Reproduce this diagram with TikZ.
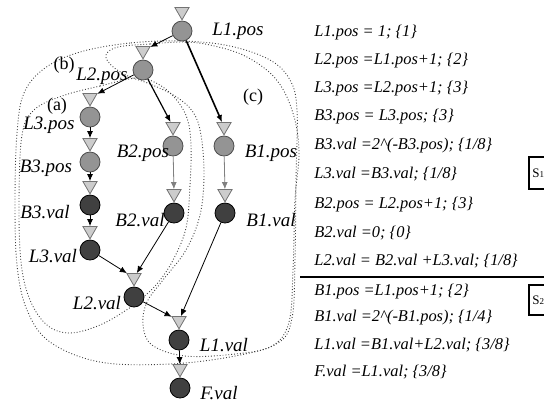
\documentclass[tikz,border=0pt]{standalone}
\usepackage{fontspec}
\setmainfont{Liberation Serif}
\usetikzlibrary{shapes.geometric,arrows.meta}
\begin{document}
\begin{tikzpicture}[x=0.5pt,y=-0.5pt,
  pcirc/.style={circle,draw=black!70,fill=black!42,minimum size=10pt,inner sep=0pt,line width=0.4pt},
  vcirc/.style={circle,draw=black,fill=black!75,minimum size=10pt,inner sep=0pt,line width=0.4pt},
  tri/.style={regular polygon,regular polygon sides=3,shape border rotate=180,draw=black!55,fill=black!20,minimum size=8.2pt,inner sep=0pt,line width=0.4pt,anchor=south},
  lbl/.style={font=\fontsize{9.5}{11}\selectfont\itshape,inner sep=0pt},
  tag/.style={font=\fontsize{9}{11}\selectfont,inner sep=0pt},
  eq/.style={font=\fontsize{8.2}{10}\selectfont\itshape,anchor=west,inner sep=0pt},
  arr/.style={-{Latex[length=3.5pt,width=3pt]},line width=0.4pt,black},
  garr/.style={arr,draw=black!50},
  region/.style={densely dotted,line width=0.45pt,black!75},
  sbox/.style={inner sep=0pt,anchor=west}
]
\useasboundingbox (0,0) rectangle (544,404);

% dotted regions
\draw[region] plot[smooth cycle,tension=0.6] coordinates {(182,41) (130,43) (80,52) (45,68) (24,93) (17,133) (15,200) (17,265) (27,310) (50,342) (100,362) (170,364) (235,356) (278,343) (292,318) (295,260) (296,180) (297,110) (290,80) (270,60) (230,46)};
\draw[region] plot[smooth cycle,tension=0.6] coordinates {(137,78) (100,86) (62,96) (34,110) (22,135) (19,200) (21,262) (30,300) (47,325) (70,333) (100,325) (128,309) (142,298) (156,285) (172,262) (186,228) (190,185) (191,145) (187,118) (175,98) (158,84)};
\draw[region] plot[smooth cycle,tension=0.6] coordinates {(183,42) (150,44) (118,47) (106,55) (112,66) (128,76) (150,84) (175,96) (193,112) (201,135) (204,175) (200,215) (186,250) (163,280) (147,302) (143,325) (152,345) (185,356) (235,354) (272,346) (289,322) (293,270) (295,200) (299,150) (292,110) (275,78) (245,56) (210,45)};

% circles
\node[pcirc] (L1p) at (182,31) {};
\node[pcirc] (L2p) at (143,70) {};
\node[pcirc] (L3p) at (90,117) {};
\node[pcirc] (B3p) at (90,162) {};
\node[vcirc] (B3v) at (90,205) {};
\node[vcirc] (L3v) at (90,250) {};
\node[pcirc] (B2p) at (173,146) {};
\node[vcirc] (B2v) at (174,213) {};
\node[pcirc] (B1p) at (224,146) {};
\node[vcirc] (B1v) at (225,213) {};
\node[vcirc] (L2v) at (134,297) {};
\node[vcirc] (L1v) at (179,340) {};
\node[vcirc] (Fv) at (180,388) {};

% triangles
\node[tri] (L1t) at (L1p.north) {};
\node[tri] (L2t) at (L2p.north) {};
\node[tri] (L3t) at (L3p.north) {};
\node[tri] (B3pt) at (B3p.north) {};
\node[tri] (B3vt) at (B3v.north) {};
\node[tri] (L3vt) at (L3v.north) {};
\node[tri] (B2pt) at (B2p.north) {};
\node[tri] (B2vt) at (B2v.north) {};
\node[tri] (B1pt) at (B1p.north) {};
\node[tri] (B1vt) at (B1v.north) {};
\node[tri] (L2vt) at (L2v.north) {};
\node[tri] (L1vt) at (L1v.north) {};
\node[tri] (Ft) at (Fv.north) {};

% connectors
\draw[arr] (L1p) -- (L2t);
\draw[arr,line width=0.8pt] (L1p) -- (B1pt);
\draw[arr] (L2p) -- (L3t);
\draw[arr,line width=0.6pt] (L2p) -- (B2pt);
\draw[arr] (L3p) -- (B3pt);
\draw[arr] (B3p) -- (B3vt);
\draw[arr] (B3v) -- (L3vt);
\draw[garr] (B2p) -- (B2vt);
\draw[garr] (B1p) -- (B1vt);
\draw[arr] (B2v) -- (L2vt);
\draw[arr] (L3v) -- (L2vt);
\draw[arr] (L2v) -- (L1vt);
\draw[arr] (B1v) -- (L1vt);
\draw[arr] (L1v) -- (Ft);

% labels
\node[lbl] (lL1p) at (238,31) {L1.pos};
\node[lbl] (lL2p) at (102,76) {L2.pos};
\node[lbl] (lL3p) at (49,125) {L3.pos};
\node[lbl] (lB3p) at (46,168) {B3.pos};
\node[lbl] (lB3v) at (45,212) {B3.val};
\node[lbl] (lL3v) at (53,256) {L3.val};
\node[lbl] (lB2p) at (143,153) {B2.pos};
\node[lbl] (lB2v) at (140,220) {B2.val};
\node[lbl] (lB1p) at (271,153) {B1.pos};
\node[lbl] (lB1v) at (271,220) {B1.val};
\node[lbl] (lL2v) at (97,303) {L2.val};
\node[lbl] (lL1v) at (224,345) {L1.val};
\node[lbl] (lFv) at (219,393) {F.val};
\node[tag] (ta) at (57,106) {(a)};
\node[tag] (tb) at (64,65) {(b)};
\node[tag] (tc) at (253,97) {(c)};

% equations
\node[eq] (e1) at (314,33) {L1.pos = 1; \{1\}};
\node[eq] (e2) at (314,61) {L2.pos =L1.pos+1; \{2\}};
\node[eq] (e3) at (314,89) {L3.pos =L2.pos+1; \{3\}};
\node[eq] (e4) at (314,117) {B3.pos = L3.pos; \{3\}};
\node[eq] (e5) at (314,146) {B3.val =2\textasciicircum(-B3.pos); \{1/8\}};
\node[eq] (e6) at (314,174) {L3.val =B3.val; \{1/8\}};
\node[eq] (e7) at (314,205) {B2.pos = L2.pos+1; \{3\}};
\node[eq] (e8) at (314,233) {B2.val =0; \{0\}};
\node[eq] (e9) at (314,261) {L2.val = B2.val +L3.val; \{1/8\}};
\node[eq] (e10) at (314,292) {B1.pos =L1.pos+1; \{2\}};
\node[eq] (e11) at (314,318) {B1.val =2\textasciicircum(-B1.pos); \{1/4\}};
\node[eq] (e12) at (314,345) {L1.val =B1.val+L2.val; \{3/8\}};
\node[eq] (e13) at (314,372) {F.val =L1.val; \{3/8\}};

% separator rule
\coordinate (r1) at (300,277);
\coordinate (r2) at (544,277);
\draw[line width=0.7pt] (r1) -- (r2);

% S boxes
\draw[line width=0.6pt] (544,157) -- (529,157) -- (529,189) -- (544,189);
\node[sbox] (s1) at (532,173) {{\fontsize{6.5}{7}\selectfont S}{\fontsize{4.5}{5}\selectfont 1}};
\draw[line width=0.6pt] (544,285) -- (529,285) -- (529,315) -- (544,315);
\node[sbox] (s2) at (532,300) {{\fontsize{6.5}{7}\selectfont S}{\fontsize{4.5}{5}\selectfont 2}};
\end{tikzpicture}
\end{document}
